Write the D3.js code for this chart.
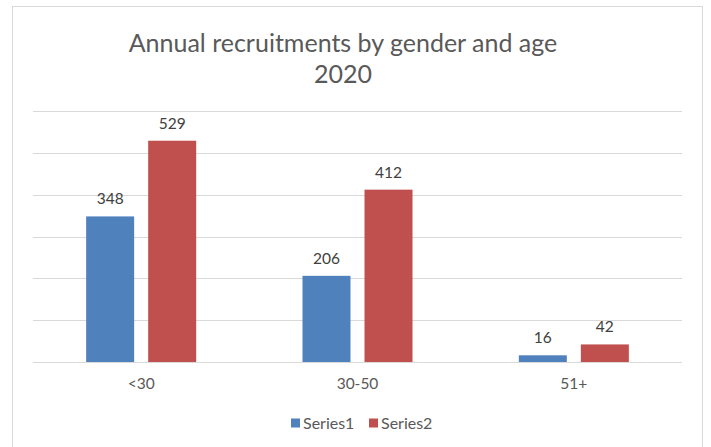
<!DOCTYPE html>
<html>
<head>
<meta charset="utf-8">
<script src="https://cdn.jsdelivr.net/npm/d3@7"></script>
<style>
  html, body { margin: 0; padding: 0; background: #fff; }
  svg { display: block; font-family: Lato, "Open Sans", sans-serif; }
</style>
</head>
<body>
<svg id="chart" width="711" height="447"></svg>
<script>
// Chart data
const categories = ["<30", "30-50", "51+"];
const seriesNames = ["Series1", "Series2"];
const series1 = [348, 206, 16];
const series2 = [529, 412, 42];
const yTicks = [0, 100, 200, 300, 400, 500, 600];
const titleLines = ["Annual recruitments by gender and age", "2020"];

const colors = { Series1: "#4F81BD", Series2: "#C0504D" };
const textColor = "#595959";
const gridColor = "#d9d9d9";

const svg = d3.select("#chart");

// Chart area frame
svg.append("rect")
  .attr("x", 12.5).attr("y", 6.5)
  .attr("width", 690).attr("height", 460)
  .attr("fill", "#fff")
  .attr("stroke", gridColor)
  .attr("stroke-width", 1);

const plot = { left: 33, right: 682, top: 111, bottom: 362 };

const x = d3.scaleBand()
  .domain(categories)
  .range([plot.left, plot.right])
  .paddingInner(0).paddingOuter(0);

const xInner = d3.scaleBand()
  .domain(seriesNames)
  .range([0, x.bandwidth()])
  .paddingInner(0.226)
  .paddingOuter(0.857);

const y = d3.scaleLinear()
  .domain([0, 600])
  .range([plot.bottom, plot.top]);

// Horizontal gridlines
svg.append("g")
  .selectAll("line")
  .data(yTicks)
  .join("line")
  .attr("x1", plot.left).attr("x2", plot.right)
  .attr("y1", d => Math.round(y(d)) + 0.5)
  .attr("y2", d => Math.round(y(d)) + 0.5)
  .attr("stroke", gridColor)
  .attr("stroke-width", 1.2);

// Bars
const rows = categories.map((c, i) => ({
  category: c,
  values: [
    { name: "Series1", value: series1[i] },
    { name: "Series2", value: series2[i] }
  ]
}));

const groups = svg.append("g")
  .selectAll("g")
  .data(rows)
  .join("g")
  .attr("transform", d => `translate(${x(d.category)},0)`);

groups.selectAll("rect")
  .data(d => d.values)
  .join("rect")
  .attr("x", d => xInner(d.name))
  .attr("width", xInner.bandwidth())
  .attr("y", d => y(d.value))
  .attr("height", d => y(0) - y(d.value))
  .attr("fill", d => colors[d.name]);

// Value labels
groups.selectAll("text")
  .data(d => d.values)
  .join("text")
  .attr("x", d => xInner(d.name) + xInner.bandwidth() / 2)
  .attr("y", d => y(d.value) - 12)
  .attr("text-anchor", "middle")
  .attr("font-size", 15.5)
  .attr("fill", "#404040")
  .text(d => d.value);

// Category axis labels
const xAxis = d3.axisBottom(x).tickSize(0).tickPadding(0);
const xg = svg.append("g")
  .attr("transform", `translate(0,${plot.bottom})`)
  .call(xAxis);
xg.select(".domain").remove();
xg.selectAll("text")
  .attr("dy", null)
  .attr("y", 27)
  .attr("font-size", 15.5)
  .attr("font-family", "Lato, 'Open Sans', sans-serif")
  .attr("fill", textColor);

// Title
const title = svg.append("text")
  .attr("text-anchor", "middle")
  .attr("fill", textColor)
  .attr("font-size", 25);
title.selectAll("tspan")
  .data(titleLines)
  .join("tspan")
  .attr("x", 343)
  .attr("y", (d, i) => 52 + i * 31)
  .text(d => d);

// Legend
const legendX = 291;
const legend = svg.append("g").attr("transform", `translate(${legendX},423)`);
const legendOffsets = [0, 78];
seriesNames.forEach((name, i) => {
  const g = legend.append("g").attr("transform", `translate(${legendOffsets[i]},0)`);
  g.append("rect")
    .attr("x", 0).attr("y", -4.5)
    .attr("width", 9).attr("height", 9)
    .attr("fill", colors[name]);
  g.append("text")
    .attr("x", 12).attr("y", 5.5)
    .attr("font-size", 16)
    .attr("fill", textColor)
    .text(name);
});
</script>
</body>
</html>
